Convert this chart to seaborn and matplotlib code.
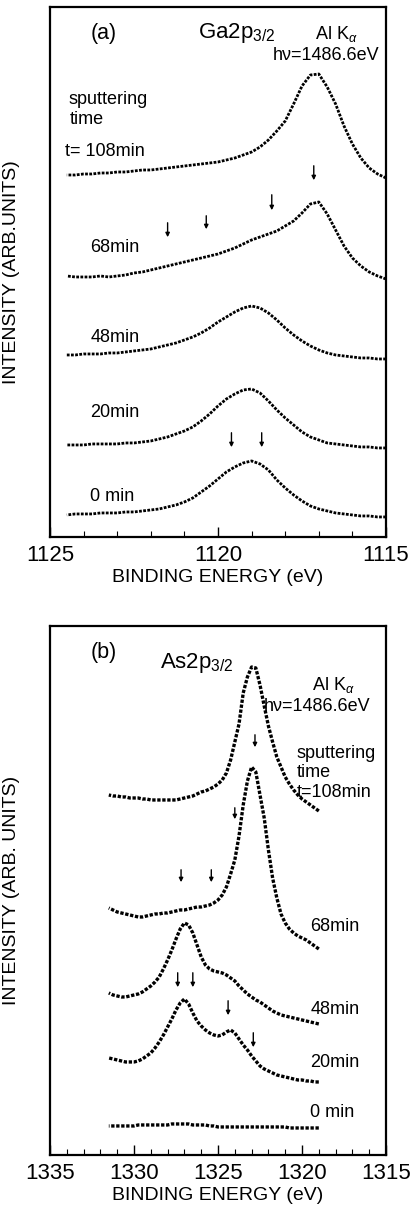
import numpy as np
import pandas as pd
import matplotlib
matplotlib.use("Agg")
import matplotlib.pyplot as plt
from matplotlib.ticker import MultipleLocator, FixedLocator
import seaborn as sns

# ---- data (intensity in arb. units, curves already offset) ----
ga_energy = [1124.5, 1124.25, 1124.0, 1123.75, 1123.5, 1123.25, 1123.0, 1122.75, 1122.5, 1122.25,
             1122.0, 1121.75, 1121.5, 1121.25, 1121.0, 1120.75, 1120.5, 1120.25, 1120.0, 1119.75,
             1119.5, 1119.25, 1119.0, 1118.75, 1118.5, 1118.25, 1118.0, 1117.75, 1117.5, 1117.25,
             1117.0, 1116.75, 1116.5, 1116.25, 1116.0, 1115.75, 1115.5, 1115.25, 1115.0]
ga_108 = [362, 362, 363, 363, 364, 364, 365, 365, 366, 367, 367, 368, 369, 370, 371, 372, 373, 374, 375, 377,
          379, 382, 385, 390, 397, 406, 416, 433, 451, 462, 463, 450, 433, 411, 393, 379, 369, 363, 359]
ga_68 = [261, 260, 260, 260, 261, 260, 261, 262, 264, 265, 267, 269, 271, 273, 275, 277, 279, 281, 283, 286,
         289, 293, 297, 300, 303, 306, 311, 316, 324, 333, 335, 323, 307, 291, 279, 271, 265, 261, 258]
ga_48 = [182, 182, 183, 183, 183, 184, 184, 185, 186, 187, 188, 190, 192, 194, 197, 200, 204, 209, 215, 220,
         225, 229, 231, 229, 224, 217, 209, 202, 196, 191, 187, 184, 182, 181, 180, 179, 179, 178, 178]
ga_20 = [92, 92, 92, 93, 93, 93, 93, 94, 94, 95, 96, 98, 100, 103, 106, 110, 116, 123, 131, 138,
         143, 147, 148, 144, 136, 127, 119, 112, 105, 100, 97, 94, 93, 92, 91, 90, 90, 89, 89]
ga_0 = [22, 23, 23, 23, 24, 24, 24, 25, 25, 26, 27, 28, 30, 32, 35, 39, 45, 51, 58, 65,
        70, 74, 76, 73, 67, 57, 49, 42, 36, 31, 28, 26, 24, 23, 22, 21, 21, 20, 20]

as_energy = [1331.5, 1331.25, 1331.0, 1330.75, 1330.5, 1330.25, 1330.0, 1329.75, 1329.5, 1329.25,
             1329.0, 1328.75, 1328.5, 1328.25, 1328.0, 1327.75, 1327.5, 1327.25, 1327.0, 1326.75,
             1326.5, 1326.25, 1326.0, 1325.75, 1325.5, 1325.25, 1325.0, 1324.75, 1324.5, 1324.25,
             1324.0, 1323.75, 1323.5, 1323.25, 1323.0, 1322.75, 1322.5, 1322.25, 1322.0, 1321.75,
             1321.5, 1321.25, 1321.0, 1320.75, 1320.5, 1320.25, 1320.0, 1319.75, 1319.5, 1319.25, 1319.0]
as_108 = [360, 359, 359, 358, 358, 357, 357, 357, 356, 356, 355, 355, 355, 355, 355, 355, 355, 356, 357, 358,
          359, 361, 363, 364, 366, 368, 371, 375, 382, 395, 413, 431, 462, 478, 488, 487, 470, 449, 429, 413,
          398, 388, 378, 371, 365, 360, 356, 353, 350, 347, 344]
as_68 = [247, 245, 243, 242, 241, 240, 239, 238, 238, 239, 240, 241, 241, 242, 242, 243, 244, 245, 245, 246,
         247, 248, 248, 249, 250, 252, 255, 260, 268, 281, 295, 319, 350, 374, 388, 383, 360, 337, 305, 277,
         257, 241, 232, 226, 222, 219, 217, 215, 212, 209, 206]
as_48 = [162, 160, 159, 158, 158, 159, 160, 161, 163, 166, 169, 173, 178, 186, 195, 205, 216, 226, 232, 230,
         222, 210, 198, 190, 186, 184, 183, 182, 180, 177, 174, 169, 165, 161, 158, 155, 153, 150, 147, 144,
         142, 140, 139, 138, 137, 136, 135, 134, 133, 132, 131]
as_20 = [97, 96, 95, 94, 93, 93, 93, 94, 96, 99, 102, 107, 113, 120, 128, 136, 145, 152, 156, 151,
         142, 134, 129, 125, 122, 120, 119, 120, 123, 125, 122, 116, 110, 105, 99, 94, 89, 86, 84, 82,
         80, 79, 78, 77, 76, 75, 75, 74, 74, 73, 73]
as_0 = [29, 29, 29, 29, 29, 29, 29, 30, 30, 30, 30, 30, 30, 30, 30, 31, 31, 31, 31, 31,
        30, 30, 30, 30, 29, 29, 28, 28, 28, 28, 28, 28, 28, 28, 28, 28, 28, 28, 28, 28,
        28, 28, 28, 27, 27, 27, 27, 27, 27, 27, 27]

# arrows: energy, top, bottom
ga_arrows = [(1121.5, 317, 297), (1120.35, 324, 305), (1118.4, 345, 324), (1117.15, 374, 354),
             (1119.6, 107, 87), (1118.7, 107, 87)]
as_arrows = [(1327.2, 288, 270), (1325.4, 288, 270), (1324.0, 350, 333), (1322.8, 423, 405),
             (1327.4, 185, 165), (1326.5, 185, 165), (1324.4, 157, 137), (1322.9, 125, 105)]

sns.set_theme(style="white")
plt.rcParams['font.family'] = ['Liberation Sans', 'DejaVu Sans']
plt.rcParams['mathtext.fontset'] = 'custom'
plt.rcParams['mathtext.rm'] = 'Liberation Sans'
plt.rcParams['mathtext.it'] = 'Liberation Sans:italic'
plt.rcParams['text.color'] = 'black'
plt.rcParams['axes.labelcolor'] = 'black'
plt.rcParams['xtick.color'] = 'black'

fig = plt.figure(figsize=(4.11, 12.08), dpi=100)
ax1 = fig.add_axes([0.1217, 0.5555, 0.8175, 0.4387])
ax2 = fig.add_axes([0.1217, 0.0439, 0.8175, 0.4379])

dot = (0, (1.0, 0.5))

for s in [ga_108, ga_68, ga_48, ga_20, ga_0]:
    df = pd.DataFrame({"E": ga_energy, "I": s})
    sns.lineplot(data=df, x="E", y="I", ax=ax1, color="black", lw=2.0, linestyle=dot)
for s in [as_108, as_68, as_48, as_20, as_0]:
    df = pd.DataFrame({"E": as_energy, "I": s})
    sns.lineplot(data=df, x="E", y="I", ax=ax2, color="black", lw=2.4, linestyle=dot)

for ax, arrows in [(ax1, ga_arrows), (ax2, as_arrows)]:
    for e, top, bot in arrows:
        ax.annotate("", xy=(e, bot), xytext=(e, top),
                    arrowprops=dict(arrowstyle="-|>", lw=1.0, color="black", mutation_scale=6))

ax1.set_xlim(1125, 1115)
ax1.set_ylim(0, 530)
ax2.set_xlim(1335, 1315)
ax2.set_ylim(0, 529)

ax1.xaxis.set_major_locator(FixedLocator([1125, 1120, 1115]))
ax1.xaxis.set_minor_locator(MultipleLocator(1))
ax2.xaxis.set_major_locator(FixedLocator([1335, 1330, 1325, 1320, 1315]))
ax2.xaxis.set_minor_locator(MultipleLocator(1))

for ax in (ax1, ax2):
    ax.set_yticks([])
    ax.tick_params(axis="x", which="major", direction="in", length=7, width=1.0,
                   labelsize=16, pad=6, bottom=True)
    ax.tick_params(axis="x", which="minor", direction="in", length=4, width=0.8, bottom=True)
    for sp in ax.spines.values():
        sp.set_linewidth(1.6)
        sp.set_color("black")
    ax.set_xlabel("BINDING ENERGY (eV)", fontsize=14, labelpad=2)
    ax.yaxis.set_label_coords(-0.09, 0.5)

ax1.set_ylabel("INTENSITY (ARB.UNITS)", fontsize=14)
ax2.set_ylabel("INTENSITY (ARB. UNITS)", fontsize=14)

lab = 13
big = 13

# panel (a) annotations
ax1.text(1123.8, 504, "(a)", fontsize=15.5, va="center")
ax1.text(1120.6, 504, r"Ga2p$_{\mathregular{3/2}}$", fontsize=16, va="center")
ax1.text(1117.1, 503, r"Al K$_{\alpha}$", fontsize=big, va="center")
ax1.text(1115.2, 482, "hν=1486.6eV", fontsize=big, va="center", ha="right")
ax1.text(1124.45, 437, "sputtering", fontsize=big, va="center")
ax1.text(1124.4, 417, "time", fontsize=big, va="center")
ax1.text(1124.55, 385, "t= 108min", fontsize=big, va="center")
ax1.text(1123.8, 289, "68min", fontsize=lab, va="center")
ax1.text(1123.8, 199, "48min", fontsize=lab, va="center")
ax1.text(1123.8, 124, "20min", fontsize=lab, va="center")
ax1.text(1123.8, 40, "0 min", fontsize=lab, va="center")

# panel (b) annotations
ax2.text(1332.6, 502, "(b)", fontsize=15.5, va="center")
ax2.text(1328.45, 492, r"As2p$_{\mathregular{3/2}}$", fontsize=16, va="center")
ax2.text(1319.4, 470, r"Al K$_{\alpha}$", fontsize=big, va="center")
ax2.text(1322.3, 448, "hν=1486.6eV", fontsize=big, va="center")
ax2.text(1320.3, 401, "sputtering", fontsize=big, va="center")
ax2.text(1320.3, 382, "time", fontsize=big, va="center")
ax2.text(1320.3, 362, "t=108min", fontsize=big, va="center")
ax2.text(1319.5, 228, "68min", fontsize=lab, va="center")
ax2.text(1319.5, 145, "48min", fontsize=lab, va="center")
ax2.text(1319.5, 92, "20min", fontsize=lab, va="center")
ax2.text(1319.5, 42, "0 min", fontsize=lab, va="center")

fig.savefig("out.png", dpi=100)
